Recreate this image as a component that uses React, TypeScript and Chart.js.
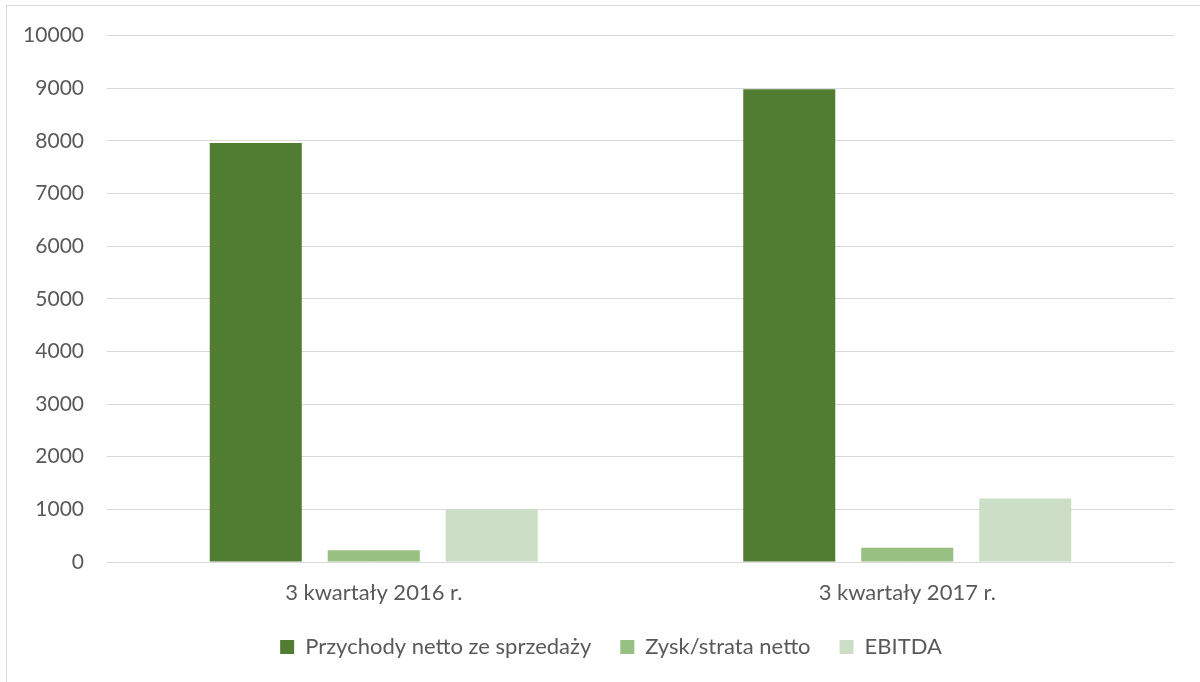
import React, { useEffect, useRef } from "react";
import { Chart, registerables } from "chart.js";

Chart.register(...registerables);

const categories = ["3 kwartały 2016 r.", "3 kwartały 2017 r."];
const seriesNames = ["Przychody netto ze sprzedaży", "Zysk/strata netto", "EBITDA"];
const przychody = [7960, 8980];
const zysk = [225, 270];
const ebitda = [1000, 1205];
const colors = ["#507D32", "#98C083", "#CCDEC5"];
const yMin = 0;
const yMax = 10000;
const yStep = 1000;

const FONT = "Lato, 'Open Sans', sans-serif";
const TEXT = "#595959";

const legendShift = {
  id: "legendShift",
  afterLayout(chart: any) {
    const l = chart.legend;
    if (l) {
      l.left += 24;
      l.right += 24;
    }
  },
};

export default function App() {
  const ref = useRef<HTMLCanvasElement | null>(null);
  useEffect(() => {
    if (!ref.current) return;
    const chart = new Chart(ref.current, {
      type: "bar",
      data: {
        labels: categories,
        datasets: [przychody, zysk, ebitda].map((d, i) => ({
          label: seriesNames[i],
          data: d,
          backgroundColor: colors[i],
          borderWidth: 0,
          categoryPercentage: 0.6635,
          barPercentage: 0.78,
        })),
      },
      plugins: [legendShift],
      options: {
        animation: false,
        responsive: false,
        maintainAspectRatio: false,
        layout: { padding: { left: 0, right: 26, top: 34, bottom: 14 } },
        plugins: {
          tooltip: { enabled: false },
          legend: {
            position: "bottom",
            labels: {
              boxWidth: 14,
              boxHeight: 14,
              padding: 29,
              color: TEXT,
              font: { family: FONT, size: 22 },
            },
          },
        },
        scales: {
          x: {
            grid: { display: false },
            border: { display: false },
            ticks: { color: TEXT, font: { family: FONT, size: 22 }, padding: 10 },
            afterFit: (s: any) => {
              s.height = 45;
            },
          },
          y: {
            min: yMin,
            max: yMax,
            grid: { color: "#d9d9d9", lineWidth: 1, drawTicks: false },
            border: { display: false },
            ticks: {
              stepSize: yStep,
              color: TEXT,
              font: { family: FONT, size: 21 },
              padding: 23,
              callback: (v: any) => String(v),
            },
            afterFit: (s: any) => {
              s.width = 107;
            },
          },
        },
      },
    });
    return () => chart.destroy();
  }, []);
  return (
    <div style={{ position: "fixed", left: 0, top: 0, width: 1200, height: 682, background: "#fff", overflow: "hidden" }}>
      <div
        style={{
          position: "absolute",
          left: 6,
          top: 5,
          width: 1300,
          height: 800,
          border: "1px solid #d9d9d9",
          boxSizing: "border-box",
        }}
      />
      <canvas ref={ref} width={1200} height={682} style={{ position: "absolute", left: 0, top: 0 }} />
    </div>
  );
}
